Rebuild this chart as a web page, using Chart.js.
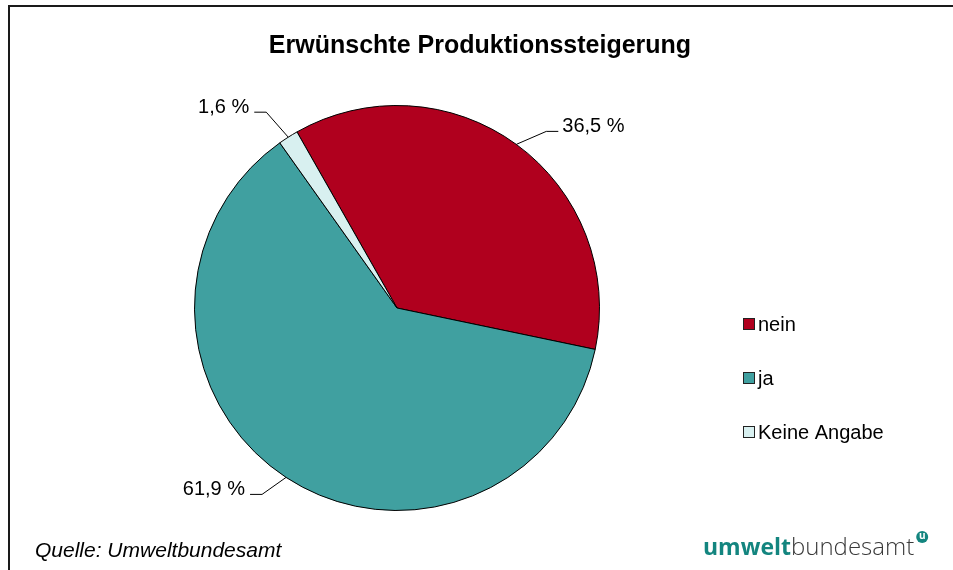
<!DOCTYPE html>
<html lang="de">
<head>
<meta charset="utf-8">
<title>Erwünschte Produktionssteigerung</title>
<script src="https://cdn.jsdelivr.net/npm/chart.js@4.4.0/dist/chart.umd.min.js"></script>
<style>
    html, body { margin: 0; padding: 0; background: #ffffff; }
    #chart { display: block; }
</style>
</head>
<body>
<canvas id="chart" width="953" height="570"></canvas>
<script>
// Daten
const categories = ['nein', 'ja', 'Keine Angabe'];
const shares = [36.5, 61.9, 1.6];
const valueLabels = ['36,5 %', '61,9 %', '1,6 %'];

const sliceColors = ['#b0001e', '#40a0a0', '#d8f0f0'];
const FONT = '"Liberation Sans", Arial, sans-serif';

// Beschriftungen mit Führungslinien: Knick relativ zum Rand, Länge des waagrechten Stücks
const labelPlacement = [
    { elbow: [30, -13], tick: 12 },
    { elbow: [-24, 17], tick: -12 },
    { elbow: [-22, -25], tick: -12 }
];

const framePlugin = {
    id: 'frame',
    beforeDraw(chart) {
        const ctx = chart.ctx;
        ctx.save();
        ctx.fillStyle = '#ffffff';
        ctx.fillRect(0, 0, chart.width, chart.height);
        ctx.strokeStyle = '#1a1a1a';
        ctx.lineWidth = 2;
        ctx.strokeRect(9, 6, chart.width + 20, chart.height + 20);
        ctx.restore();
    },
    afterDraw(chart) {
        const ctx = chart.ctx;
        const meta = chart.getDatasetMeta(0);
        ctx.save();

        // Titel
        ctx.fillStyle = '#000000';
        ctx.font = 'bold 25px ' + FONT;
        ctx.textAlign = 'center';
        ctx.textBaseline = 'alphabetic';
        ctx.fillText('Erwünschte Produktionssteigerung', 480, 53);

        // Wertbeschriftungen
        ctx.font = '20px ' + FONT;
        ctx.strokeStyle = '#000000';
        ctx.lineWidth = 1;
        meta.data.forEach((arc, i) => {
            const p = arc.getProps(['x', 'y', 'startAngle', 'endAngle', 'outerRadius'], true);
            const mid = (p.startAngle + p.endAngle) / 2;
            const ex = p.x + Math.cos(mid) * p.outerRadius;
            const ey = p.y + Math.sin(mid) * p.outerRadius;
            const place = labelPlacement[i];
            const bx = ex + place.elbow[0];
            const by = ey + place.elbow[1];
            const tx = bx + place.tick;
            ctx.beginPath();
            ctx.moveTo(ex, ey);
            ctx.lineTo(bx, by);
            ctx.lineTo(tx, by);
            ctx.stroke();
            ctx.textAlign = place.tick > 0 ? 'left' : 'right';
            ctx.fillText(valueLabels[i], tx + (place.tick > 0 ? 4 : -5), by + 1);
        });

        // Legende
        ctx.textAlign = 'left';
        ctx.textBaseline = 'middle';
        categories.forEach((name, i) => {
            const y = 324 + i * 54;
            ctx.fillStyle = sliceColors[i];
            ctx.fillRect(743, y - 6, 11, 11);
            ctx.strokeStyle = '#222222';
            ctx.strokeRect(743.5, y - 5.5, 11, 11);
            ctx.fillStyle = '#000000';
            ctx.fillText(name, 758, y + 1);
        });

        // Quelle
        ctx.font = 'italic 21px ' + FONT;
        ctx.textBaseline = 'alphabetic';
        ctx.fillText('Quelle: Umweltbundesamt', 35, 557);

        // Logo
        ctx.font = 'bold 23px "Open Sans", sans-serif';
        ctx.fillStyle = '#13857f';
        ctx.fillText('umwelt', 703, 555);
        const w = ctx.measureText('umwelt').width;
        ctx.font = '300 24px "Open Sans", sans-serif';
        ctx.fillStyle = '#3a3a3a';
        ctx.fillText('bundesamt', 703 + w, 555);
        const w2 = ctx.measureText('bundesamt').width;
        ctx.beginPath();
        ctx.arc(703 + w + w2 + 8, 537, 6, 0, Math.PI * 2);
        ctx.fillStyle = '#13857f';
        ctx.fill();
        ctx.fillStyle = '#ffffff';
        ctx.font = 'bold 10px "Open Sans", sans-serif';
        ctx.textAlign = 'center';
        ctx.textBaseline = 'middle';
        ctx.fillText('u', 703 + w + w2 + 8, 536.5);

        ctx.restore();
    }
};

new Chart(document.getElementById('chart'), {
    type: 'pie',
    data: {
        labels: categories,
        datasets: [{
            data: shares,
            backgroundColor: sliceColors,
            borderColor: '#000000',
            borderWidth: 1,
            hoverOffset: 0
        }]
    },
    options: {
        responsive: false,
        animation: false,
        rotation: -29.6,
        layout: {
            padding: { left: 194, right: 353, top: 105, bottom: 59 }
        },
        plugins: {
            legend: { display: false },
            tooltip: { enabled: false },
            title: { display: false }
        }
    },
    plugins: [framePlugin]
});
</script>
</body>
</html>
